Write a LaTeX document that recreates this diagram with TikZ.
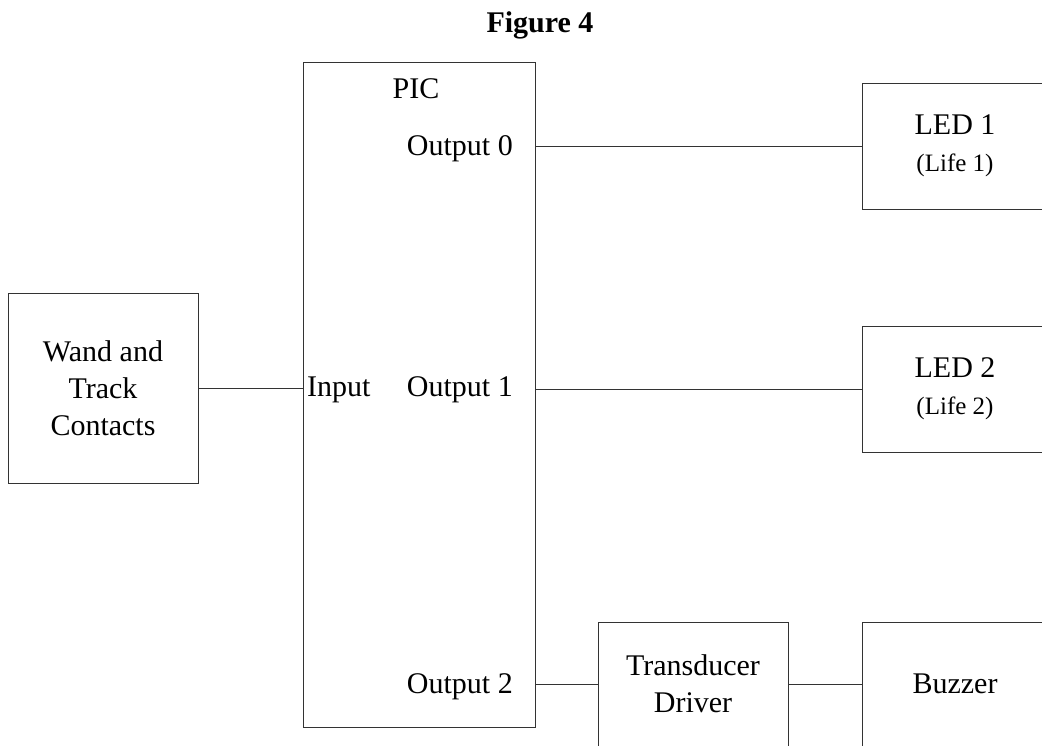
\documentclass[tikz,border=0pt]{standalone}
\usepackage{fontspec}
\setmainfont{Liberation Serif}
\usetikzlibrary{positioning}

\begin{document}
\begin{tikzpicture} [x = 1pt, y = -1pt, on grid,
  font = \fontsize{30}{37}\selectfont,
  block/.style = {draw = black!80, line width = 1pt, align = center, inner sep = 0pt},
  port/.style = {inner sep = 0pt},
  wire/.style = {draw = black!80, line width = 1pt}]

\useasboundingbox (0,0) rectangle (1042,745);
\clip (0,0) rectangle (1042,745);

\node (title) [port, anchor = base, font = \fontsize{30}{36}\selectfont\bfseries] at (540,32) {Figure 4};

\node (wand) [block, minimum width = 190pt, minimum height = 190pt] at (103,388) {Wand and\\Track\\Contacts};

% PIC
\node (pic) [block, minimum width = 232pt, minimum height = 665pt] at (419,394.5) {};
\node (pictag) [port, anchor = base] at (416,98) {PIC};
\node (in) [port, anchor = base west] at (307,396) {Input};
\node (out0) [port, anchor = base east] at (513,155) {Output 0};
\node (out1) [port, anchor = base east] at (513,396) {Output 1};
\node (out2) [port, anchor = base east] at (513,693) {Output 2};

% outputs
\node (led1) [block, minimum width = 186pt, minimum height = 126pt] at (955,146) {LED 1\\{\fontsize{25}{37}\selectfont (Life 1)}};
\node (led2) [block, minimum width = 186pt, minimum height = 126pt, below = 243pt of led1] {LED 2\\{\fontsize{25}{37}\selectfont (Life 2)}};
\node (buzzer) [block, minimum width = 186pt, minimum height = 124pt, below = 538pt of led1] {Buzzer};
\node (driver) [block, minimum width = 190pt, minimum height = 124pt, left = 262pt of buzzer] {Transducer\\Driver};

\path [wire]
  (wand) edge (wand -| pic.west);
\path [wire]
  (led1 -| pic.east) edge (led1);
\path [wire]
  (led2 -| pic.east) edge (led2);
\path [wire]
  (driver -| pic.east) edge (driver);
\path [wire]
  (driver) edge (buzzer);

\end{tikzpicture}
\end{document}
